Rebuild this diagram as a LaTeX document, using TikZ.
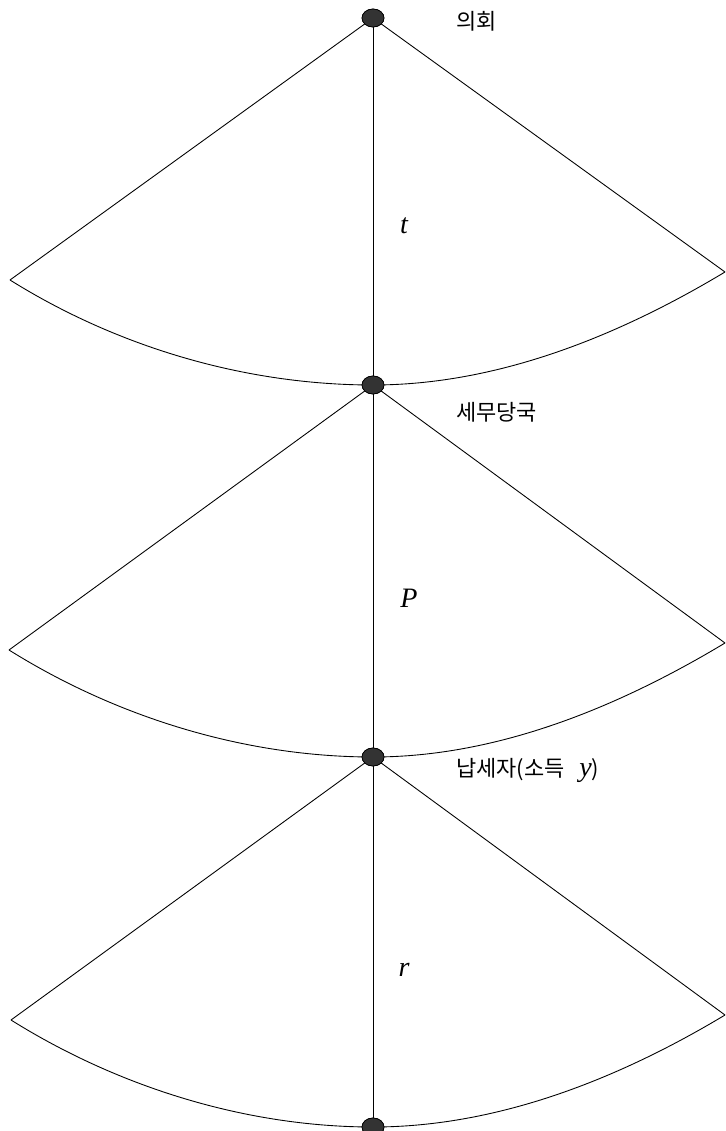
\documentclass[tikz,border=0pt]{standalone}
\usepackage{fontspec}
\setmainfont{Liberation Serif}
\newfontfamily\krfont{Noto Sans CJK KR}
\usetikzlibrary{positioning}
\usetikzlibrary{shapes.geometric}

\tikzset{
  player/.style={ellipse, draw=black, fill=black!80, minimum width=0.44cm, minimum height=0.36cm, inner sep=0pt},
  edge/.style={black, line width=0.5pt},
  who/.style={font=\krfont\fontsize{12.5}{14}\selectfont, anchor=west},
  choice/.style={font=\fontsize{16}{18}\selectfont\itshape}
}

\begin{document}
\begin{tikzpicture}[x=0.02cm, y=-0.02cm]
\useasboundingbox (0,0) rectangle (725,1131);

% three fans, one per stage
\coordinate (l1) at (10,280);
\coordinate (r1) at (725,272);
\coordinate (l2) at (9,650);
\coordinate (r2) at (725,643);
\coordinate (l3) at (11,1020);
\coordinate (r3) at (725,1015);

\node[player] (parl) at (373,18) {};
\node[player] (tax) at (373,385) {};
\node[player] (payer) at (373,757) {};
\node[player] (end) at (373,1127) {};

\foreach \a/\b/\i in {parl/tax/1, tax/payer/2, payer/end/3} {
    \draw[edge] (\a.center) -- (l\i);
    \draw[edge] (\a.center) -- (r\i);
    \draw[edge] (\a) -- (\b);
    \draw[edge] (l\i) to[out=-32,in=180,looseness=0.86] (\b.center);
    \draw[edge] (\b.center) to[out=0,in=-149,looseness=0.86] (r\i);
}
% redraw dots on top
\foreach \n/\y in {parl/18, tax/385, payer/757, end/1127}
    \node[player] at (373,\y) {};

% Labels
\node[who] (lbl1) at (450,21) {의회};
\node[who] (lbl2) at (450,412) {세무당국};
\node[who] (lbl3) at (450,770) {납세자(소득\ \ \ {\fontsize{16}{17}\selectfont\rmfamily\itshape y})};

\node[choice] (t) at (404,226) {t};
\node[choice] (p) at (409,598) {P};
\node[choice] (r) at (404,970) {r};
\end{tikzpicture}
\end{document}
